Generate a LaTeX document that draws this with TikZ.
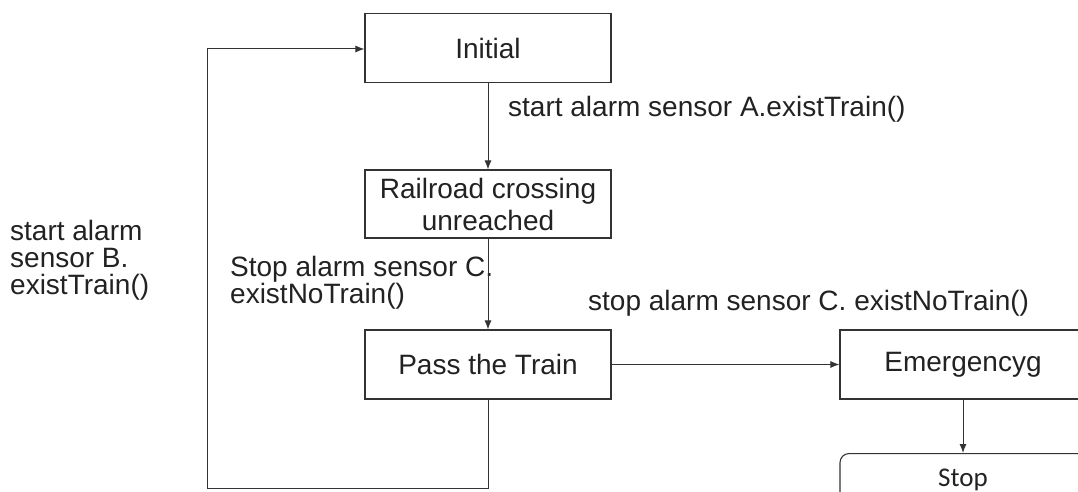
\documentclass[tikz,border=0pt]{standalone}
\usepackage{fontspec}
\setmainfont{Liberation Sans}
\newfontfamily\stopfont{Carlito}
\usetikzlibrary{arrows.meta}
\definecolor{ink}{HTML}{222222}
\definecolor{wire}{HTML}{333333}
\tikzset{
  state/.style={draw=wire, line width=1.1pt, rectangle, inner sep=0pt,
    minimum width=246pt, minimum height=69pt, text=ink,
    font=\fontsize{28}{30}\selectfont, align=center},
  lbl/.style={inner sep=0pt, text=ink, font=\fontsize{28}{27}\selectfont, align=left},
  flow/.style={draw=wire, line width=1pt, -{Latex[length=9pt,width=7pt]}},
  link/.style={draw=wire, line width=1pt}
}
\begin{document}
\begin{tikzpicture}[x=1pt,y=-1pt]
\useasboundingbox (0,0) rectangle (1078,492);
\clip (0,0) rectangle (1078,492);

% states
\node[state] (init) at (488,48) {Initial};
\node[state, minimum height=68pt, font=\fontsize{28}{32}\selectfont] (rail) at (488,204) {Railroad crossing\\unreached};
\node[state] (pass) at (488,364.5) {Pass the Train};
\node[state] (emer) at (963,364.5) {Emergencyg};
\node[state, rounded corners=9pt, anchor=north, minimum height=70pt,
      text height=33pt, text depth=37pt, font=\stopfont\fontsize{27}{30}\selectfont] (stop) at (963,453) {Stop};

% transition labels
\node[lbl, anchor=base west] (lA) at (508,117) {start alarm sensor A.existTrain()};
\node[lbl, anchor=north west] (lB) at (10,220) {start alarm\\sensor B.\\existTrain()};
\node[lbl, anchor=north west] (lC) at (230,256) {Stop alarm sensor C.\\existNoTrain()};
\node[lbl, anchor=base west] (lD) at (588,310) {stop alarm sensor C. existNoTrain()};

% return path corners
\coordinate (loopR) at (pass.south |- 0,488);
\coordinate (loopL) at (207,488);
\coordinate (loopT) at (207,49);

% transitions
\draw[flow] (init) -- (rail);
\draw[flow] (rail) -- (pass);
\draw[flow] (pass) -- (emer);
\draw[flow] (emer) -- (stop);
\draw[link] (pass.south) -- (loopR) -- (loopL) -- (loopT);
\draw[flow] (loopT) -- (loopT -| init.west);
\end{tikzpicture}
\end{document}
